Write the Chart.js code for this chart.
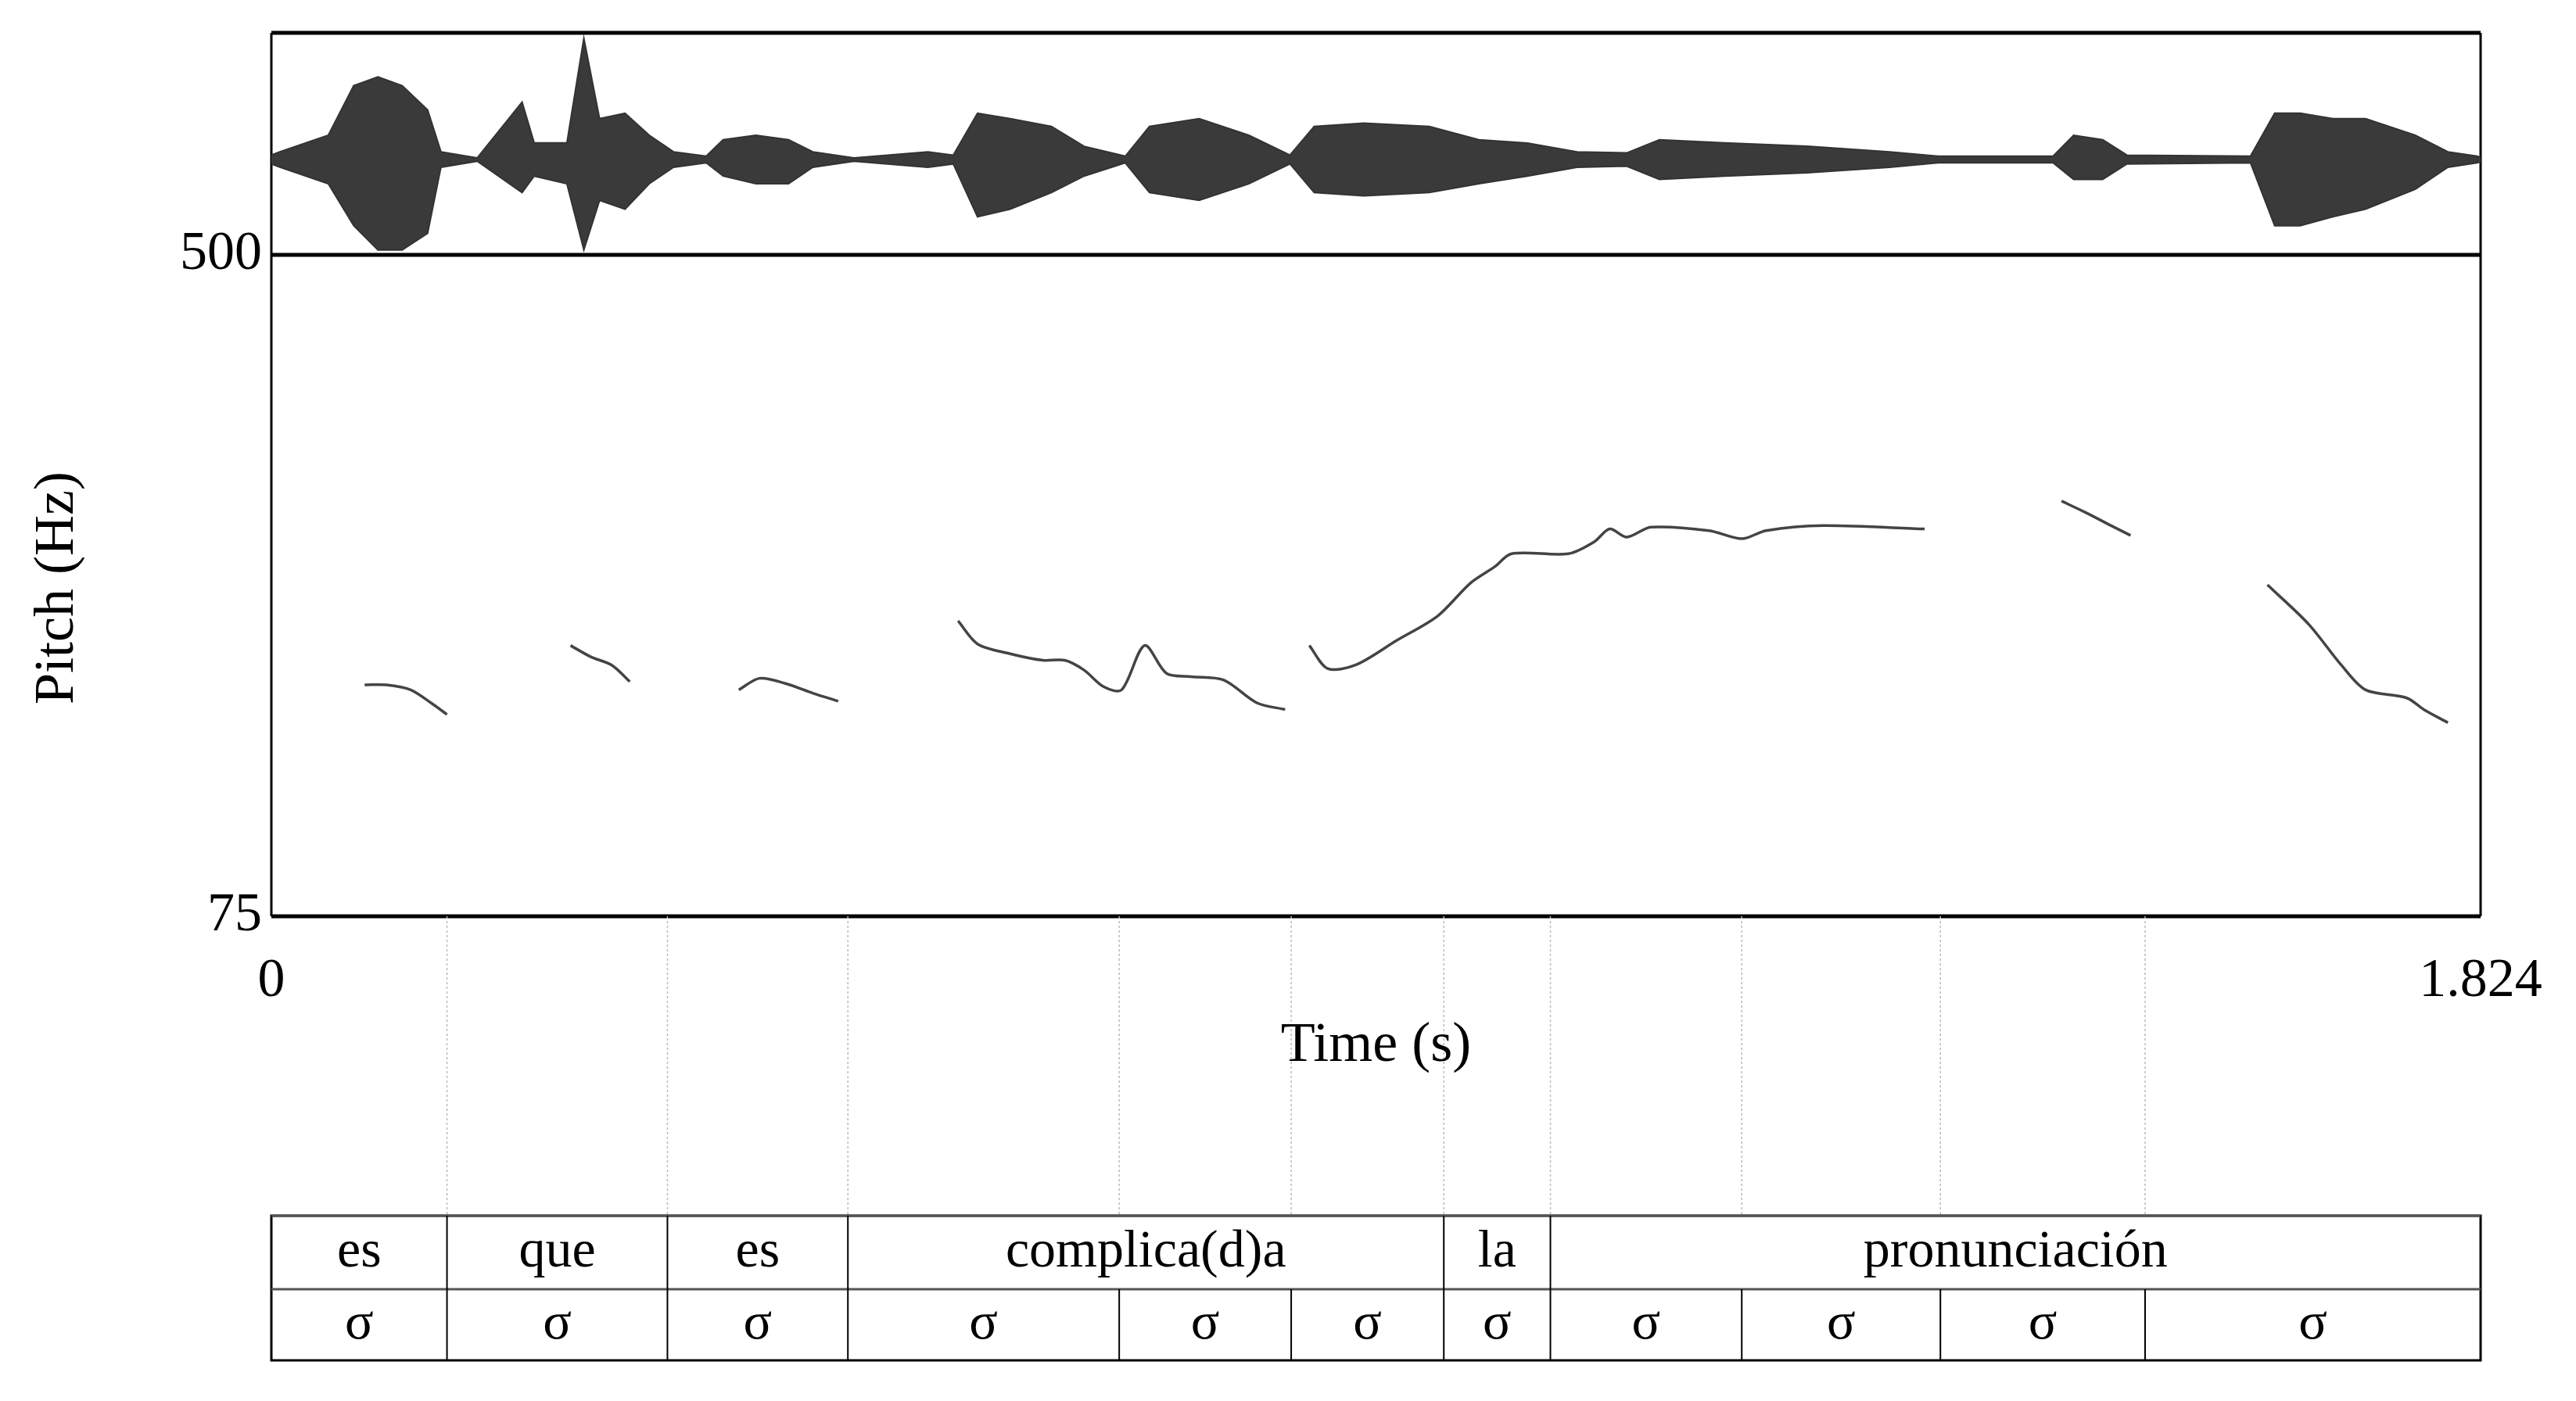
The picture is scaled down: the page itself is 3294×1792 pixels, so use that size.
<!DOCTYPE html>
<html><head><meta charset="utf-8">
<script src="https://cdn.jsdelivr.net/npm/chart.js@4/dist/chart.umd.min.js"></script>
<style>html,body{margin:0;padding:0;background:#fff}#wrap{position:relative;width:3294px;height:1792px}
#main{position:absolute;left:0;top:0}#wave{position:absolute;left:347px;top:42px}</style>
</head><body><div id="wrap"><canvas id="main" width="3294" height="1792"></canvas><canvas id="wave" width="2825" height="284"></canvas></div>
<script>
// Pitch segments: times (s) and Hz
const seg1T=[.077,.095,.115,.132,.145], seg1H=[223.7,223.7,220.5,212,204.7];
const seg2T=[.247,.264,.281,.296], seg2H=[249,241.6,236.4,225.8];
const seg3T=[.386,.403,.424,.447,.468], seg3H=[220.5,227.9,224.7,218.4,213.2];
const seg4T=[.567,.583,.610,.637,.655,.671,.687,.702,.721,.739,.759,.786,.814,.837];
const seg4H=[264.8,250,243.7,239.5,239.5,233.2,222.6,220.5,249,231.1,229,226.9,212,207.9];
const seg5T=[.857,.872,.895,.929,.963,.990,1.010,1.024,1.071,1.092,1.105,1.119,1.139,1.187,1.214,1.234,1.281,1.365];
const seg5H=[249,234.2,236.4,252.2,268,289.1,299.6,308,308,315.5,323.9,318.6,325,322.8,317.6,322.8,326,323.9];
const seg6T=[1.478,1.498,1.519,1.535], seg6H=[341.8,334.4,326,319.7];
const seg7T=[1.648,1.682,1.709,1.729,1.763,1.777,1.797], seg7H=[288,262.7,236.4,220.5,215.3,207.9,199.4];
// Waveform envelope
const waveT=[0,.007,.047,.068,.088,.108,.129,.140,.170,.207,.217,.244,.258,.271,.292,.312,.332,.359,.373,.400,.427,.447,.481,.542,.563,.583,.610,.644,.671,.705,.725,.766,.807,.841,.861,.902,.956,.997,1.037,1.078,1.119,1.146,1.200,1.268,1.336,1.376,1.471,1.488,1.512,1.532,1.634,1.654,1.675,1.702,1.729,1.770,1.797,1.821,1.824];
const waveUp=[.04,.07,.22,.67,.75,.67,.45,.07,.015,.52,.15,.15,1.1,.37,.42,.22,.07,.03,.18,.22,.18,.07,.015,.07,.04,.42,.37,.3,.12,.03,.3,.37,.22,.04,.3,.33,.3,.18,.15,.07,.06,.18,.15,.12,.07,.03,.03,.22,.18,.04,.03,.42,.42,.37,.37,.22,.07,.03,.02];
const waveDn=[.04,.07,.22,.6,.82,.82,.67,.07,.015,.3,.15,.22,.82,.37,.45,.22,.07,.03,.15,.22,.22,.07,.015,.07,.04,.52,.45,.3,.15,.03,.3,.37,.22,.04,.3,.33,.3,.22,.15,.07,.06,.18,.15,.12,.07,.03,.03,.18,.18,.04,.03,.6,.6,.52,.45,.27,.07,.03,.02];
// Tiers
const syllBounds=[0,.145,.327,.476,.700,.842,.968,1.056,1.214,1.378,1.547,1.824];
const syllLabels=['σ','σ','σ','σ','σ','σ','σ','σ','σ','σ','σ'];
const wordBounds=[0,.145,.327,.476,.968,1.056,1.824];
const wordLabels=['es','que','es','complica(d)a','la','pronunciación'];
const yTicks=[75,500], xTicks=[0,1.824];
const T0=0,T1=1.824;

const pts=(t,h)=>t.map((v,i)=>({x:v,y:h[i]}));
const segs=[[seg1T,seg1H],[seg2T,seg2H],[seg3T,seg3H],[seg4T,seg4H],[seg5T,seg5H],[seg6T,seg6H],[seg7T,seg7H]];
const F='"Liberation Serif","DejaVu Serif",serif';

const frame={id:'frame',afterDraw(c){
  const ctx=c.ctx,a=c.chartArea,xs=c.scales.x;
  const L=a.left,R=a.right,top=42,tA=1555,tM=1649,tB=1740;
  ctx.save();ctx.strokeStyle='#000';
  ctx.lineWidth=5;ctx.beginPath();
  ctx.moveTo(L,top);ctx.lineTo(R,top);ctx.moveTo(L,a.top);ctx.lineTo(R,a.top);
  ctx.moveTo(L,a.bottom);ctx.lineTo(R,a.bottom);ctx.stroke();
  ctx.lineWidth=3;ctx.beginPath();ctx.moveTo(L,top);ctx.lineTo(L,a.bottom);ctx.moveTo(R,top);ctx.lineTo(R,a.bottom);ctx.stroke();
  ctx.strokeStyle='#bbb';ctx.lineWidth=1.5;ctx.setLineDash([3,3]);ctx.beginPath();
  syllBounds.slice(1,-1).forEach(b=>{const x=xs.getPixelForValue(b);ctx.moveTo(x,a.bottom);ctx.lineTo(x,tA);});ctx.stroke();ctx.setLineDash([]);
  ctx.strokeStyle='#000';ctx.lineWidth=3;ctx.strokeRect(L,tA,R-L,tB-tA);
  ctx.strokeStyle='#555';ctx.beginPath();ctx.moveTo(L,tA);ctx.lineTo(R,tA);ctx.moveTo(L,tM);ctx.lineTo(R,tM);ctx.stroke();
  ctx.strokeStyle='#000';ctx.lineWidth=2;ctx.beginPath();
  wordBounds.slice(1,-1).forEach(b=>{const x=xs.getPixelForValue(b);ctx.moveTo(x,tA);ctx.lineTo(x,tM);});
  syllBounds.slice(1,-1).forEach(b=>{const x=xs.getPixelForValue(b);ctx.moveTo(x,tM);ctx.lineTo(x,tB);});ctx.stroke();
  ctx.fillStyle='#000';ctx.textAlign='center';ctx.textBaseline='middle';ctx.font='68px '+F;
  wordLabels.forEach((w,i)=>ctx.fillText(w,(xs.getPixelForValue(wordBounds[i])+xs.getPixelForValue(wordBounds[i+1]))/2,(tA+tM)/2));
  syllLabels.forEach((w,i)=>ctx.fillText(w,(xs.getPixelForValue(syllBounds[i])+xs.getPixelForValue(syllBounds[i+1]))/2,(tM+tB)/2));
  ctx.font='72px '+F;
  ctx.fillText('Time (s)',(L+R)/2,1338);
  ctx.translate(74,752);ctx.rotate(-Math.PI/2);ctx.fillText('Pitch (Hz)',0,0);
  ctx.restore();
}};

new Chart(document.getElementById('main'),{type:'line',
 data:{datasets:segs.map(s=>({data:pts(s[0],s[1]),borderColor:'#444',borderWidth:3.5,pointRadius:0,tension:0.3,fill:false}))},
 options:{responsive:false,animation:false,devicePixelRatio:1,
  layout:{padding:{left:0,top:326,right:122,bottom:0}},
  plugins:{legend:{display:false},tooltip:{enabled:false}},
  scales:{
   x:{type:'linear',min:T0,max:T1,afterFit:s=>{s.height=620;},
      afterBuildTicks:s=>{s.ticks=xTicks.map(v=>({value:v}));},
      grid:{display:false,drawTicks:false},border:{display:false},
      ticks:{padding:42,color:'#000',font:{family:F,size:70},callback:v=>v===0?'0':String(v)}},
   y:{type:'linear',min:75,max:500,afterFit:s=>{s.width=347;},
      afterBuildTicks:s=>{s.ticks=yTicks.map(v=>({value:v}));},
      grid:{display:false,drawTicks:true,tickLength:10,color:'#000',tickWidth:3,drawOnChartArea:false},border:{display:false},
      ticks:{padding:2,color:'#000',font:{family:F,size:70}}}
  }},plugins:[frame]});

new Chart(document.getElementById('wave'),{type:'line',
 data:{datasets:[
  {data:pts(waveT,waveDn.map(v=>-v)),borderColor:'#333',borderWidth:2,pointRadius:0,fill:false},
  {data:pts(waveT,waveUp),borderColor:'#333',borderWidth:2,pointRadius:0,fill:'-1',backgroundColor:'#3a3a3a'},
  {data:pts([T0,T1],[0,0]),borderColor:'#000',borderWidth:2,pointRadius:0,fill:false}]},
 options:{responsive:false,animation:false,devicePixelRatio:1,layout:{padding:0},
  plugins:{legend:{display:false},tooltip:{enabled:false}},
  scales:{x:{type:'linear',min:T0,max:T1,display:false},y:{min:-0.865,max:1.149,display:false}}}});
</script></body></html>
